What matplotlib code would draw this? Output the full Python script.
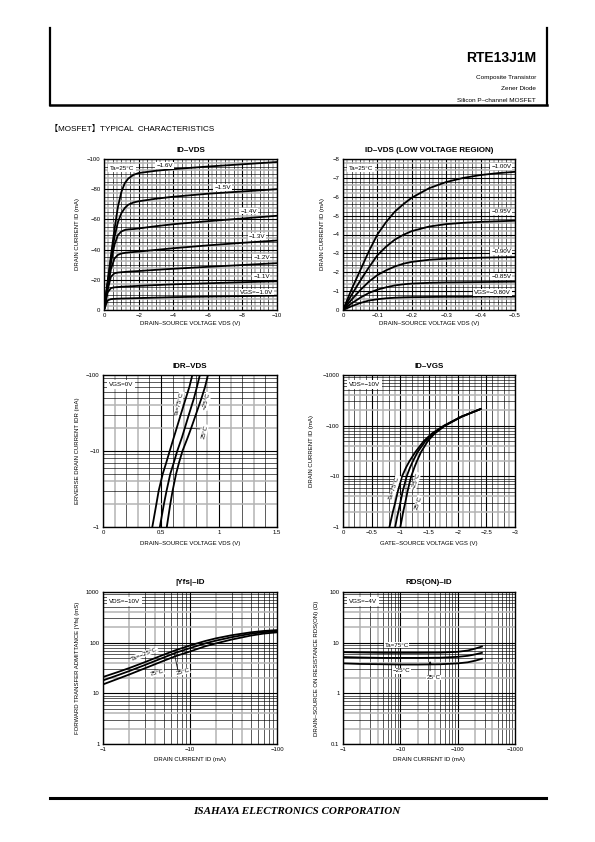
import numpy as np
import matplotlib
matplotlib.use("Agg")
import matplotlib.pyplot as plt

plt.rcParams['font.family'] = ['Liberation Sans', 'DejaVu Sans']
plt.rcParams['axes.unicode_minus'] = True

# ---------------- data ----------------
# ID-VDS (full range), Ta=25C
vds_full = [0, -0.2, -0.4, -0.6, -0.8, -1.0, -1.2, -1.4, -1.7, -2, -3, -4, -6, -8, -10]
id_full = {
    "-1.0": [0, -6.3, -7.2, -7.4, -7.5, -7.6, -7.65, -7.7, -7.8, -7.9, -8.2, -8.5, -8.9, -9.2, -9.5],
    "-1.1": [0, -11.5, -14.5, -15, -15.2, -15.4, -15.5, -15.6, -15.8, -16, -16.5, -17, -17.7, -18.4, -19],
    "-1.2": [0, -13, -22, -24.3, -24.8, -25, -25.2, -25.4, -25.6, -25.8, -26.6, -27.3, -28.6, -29.8, -31],
    "-1.3": [0, -14, -27, -34, -36.5, -37.4, -37.8, -38.1, -38.4, -38.7, -39.8, -40.9, -42.8, -44.5, -46],
    "-1.4": [0, -16, -31, -43, -49.5, -52, -53, -53.4, -53.6, -54, -55.5, -56.8, -58.8, -60.6, -62.4],
    "-1.5": [0, -17, -33, -48, -58, -64, -67.5, -69.7, -71.2, -72, -73.7, -75, -77, -78.5, -80],
    "-1.6": [0, -18, -36, -53, -68, -78, -84, -87, -89.5, -90.7, -92.2, -93.3, -95, -96.5, -98],
}
# ID-VDS (low voltage region)
vds_low = [0, -0.025, -0.05, -0.075, -0.1, -0.125, -0.15, -0.175, -0.2, -0.25, -0.3, -0.35, -0.4, -0.45, -0.5]
id_low = {
    "-0.80": [0, -0.2, -0.37, -0.5, -0.57, -0.62, -0.65, -0.67, -0.68, -0.69, -0.7, -0.7, -0.71, -0.71, -0.71],
    "-0.85": [0, -0.35, -0.65, -0.9, -1.08, -1.2, -1.3, -1.36, -1.4, -1.44, -1.46, -1.47, -1.48, -1.49, -1.5],
    "-0.90": [0, -0.55, -1.05, -1.5, -1.85, -2.1, -2.3, -2.45, -2.55, -2.66, -2.72, -2.75, -2.77, -2.79, -2.8],
    "-0.95": [0, -0.8, -1.55, -2.25, -2.9, -3.35, -3.72, -3.98, -4.18, -4.42, -4.55, -4.62, -4.67, -4.7, -4.73],
    "-1.00": [0, -1.1, -2.1, -3.1, -4.0, -4.65, -5.2, -5.6, -5.95, -6.45, -6.78, -7.0, -7.15, -7.25, -7.32],
}
# IDR-VDS, VGS=0V (|IDR| in mA vs VDS)
idr = [1, 2, 3, 5, 7, 10, 15, 20, 30, 50, 70, 100]
vds_idr = {
    "75": [0.425, 0.46, 0.48, 0.515, 0.545, 0.575, 0.61, 0.635, 0.67, 0.715, 0.745, 0.77],
    "25": [0.49, 0.525, 0.548, 0.58, 0.61, 0.64, 0.68, 0.705, 0.74, 0.785, 0.81, 0.835],
    "-25": [0.55, 0.58, 0.6, 0.63, 0.655, 0.685, 0.73, 0.76, 0.8, 0.85, 0.88, 0.905],
}
# ID-VGS, VDS=-10V (|ID| in mA vs VGS)
id_vgs = [1, 1.5, 2, 3, 5, 7, 10, 15, 20, 30, 50, 70, 100, 150, 213]
vgs_curves = {
    "75": [-0.81, -0.845, -0.87, -0.91, -0.955, -0.99, -1.03, -1.1, -1.16, -1.26, -1.41, -1.55, -1.76, -2.06, -2.4],
    "25": [-0.91, -0.94, -0.965, -1.0, -1.04, -1.075, -1.11, -1.17, -1.22, -1.3, -1.44, -1.57, -1.77, -2.06, -2.4],
    "-25": [-1.0, -1.03, -1.05, -1.085, -1.125, -1.155, -1.19, -1.245, -1.29, -1.36, -1.48, -1.6, -1.78, -2.07, -2.4],
}
# |Yfs|-ID, VDS=-10V
id_yfs = [1, 1.5, 2, 3, 5, 7, 10, 15, 20, 30, 50, 70, 100]
yfs = {
    "-25": [21, 26.5, 31.5, 41, 58, 72, 88, 108, 122, 140, 160, 170, 177],
    "25": [18, 23, 27.5, 36, 51, 64, 78, 97, 110, 128, 150, 161, 168],
    "75": [15, 19.5, 23.5, 31, 44, 55, 67, 85, 97, 115, 138, 151, 160],
}
# RDS(ON)-ID, VGS=-4V
id_rds = [1, 2, 5, 10, 20, 50, 100, 150, 200, 265]
rds = {
    "75": [6.5, 6.4, 6.3, 6.3, 6.3, 6.35, 6.6, 7.0, 7.6, 8.4],
    "25": [5.2, 5.1, 5.0, 5.0, 5.0, 5.05, 5.25, 5.5, 5.85, 6.3],
    "-25": [3.9, 3.8, 3.75, 3.7, 3.7, 3.75, 3.9, 4.1, 4.4, 4.8],
}

# ---------------- figure ----------------
W, H = 595, 842
fig = plt.figure(figsize=(W / 100, H / 100), dpi=100)

FS_TICK = 4.3
FS_LAB = 4.3
FS_NOTE = 4.5
LW = 1.3


def px_axes(l, t, r, b):
    ax = fig.add_axes([l / W, 1 - b / H, (r - l) / W, (b - t) / H])
    for s in ax.spines.values():
        s.set_linewidth(1.0)
    ax.tick_params(length=0, labelsize=FS_TICK, pad=2.5)
    return ax


def grid_line(ax, v, axis, kind):
    if kind == "major":
        kw = dict(color="black", lw=0.8)
    elif kind == "gray":
        kw = dict(color="#b4b4b4", lw=1.1)
    else:
        kw = dict(color="black", lw=0.45)
    if axis == "x":
        ax.axvline(v, zorder=0.5, **kw)
    else:
        ax.axhline(v, zorder=0.5, **kw)


def lin_grid(ax, axis, lo, hi, ndiv, every):
    for i, v in enumerate(np.linspace(lo, hi, ndiv + 1)):
        if i % every == 0:
            kind = "major"
        elif i % 2 == 1:
            kind = "gray"
        else:
            kind = "minor"
        grid_line(ax, v, axis, kind)


def log_grid(ax, axis, lo_exp, hi_exp):
    for e in range(lo_exp, hi_exp):
        for m in range(1, 10):
            kind = "major" if m == 1 else ("gray" if m in (2, 4) else "minor")
            grid_line(ax, m * 10.0 ** e, axis, kind)


def deco(ax, title, xlabel, ylabel, ylab_dx, xlab_dy, w, h):
    ax.text(0.5, 1 + 9 / h, title, transform=ax.transAxes, ha="center",
            va="center", fontsize=5.8, fontweight="bold")
    ax.set_xlabel(xlabel, fontsize=FS_LAB)
    ax.xaxis.label.set_va("center")
    ax.xaxis.set_label_coords(0.5, -xlab_dy / h)
    ax.set_ylabel(ylabel, fontsize=FS_LAB)
    ax.yaxis.label.set_va("center")
    ax.yaxis.set_label_coords(-ylab_dx / w, 0.5)


def box(ax, x, y, s, rot=0, pad=0.6):
    ax.text(x, y, s, fontsize=FS_NOTE, ha="center", va="center", zorder=5,
            rotation=rot, rotation_mode="anchor",
            bbox=dict(fc="white", ec="none", pad=pad))


def corner(ax, s):
    ax.text(0.035, 0.955, s, transform=ax.transAxes, fontsize=FS_NOTE, ha="left",
            va="top", zorder=5, bbox=dict(fc="white", ec="none", pad=1.2))


# ---- panel 1: ID-VDS ----
ax = px_axes(104, 159, 277, 310)
for k, ys in id_full.items():
    ax.plot(vds_full, ys, color="black", lw=LW, zorder=3, solid_joinstyle="round")
ax.set_xlim(0, -10)
ax.set_ylim(0, -100)
lin_grid(ax, "x", 0, -10, 40, 8)
lin_grid(ax, "y", 0, -100, 40, 8)
ax.set_xticks([0, -2, -4, -6, -8, -10])
ax.set_xticklabels(["0", "\u22122", "\u22124", "\u22126", "\u22128", "\u221210"])
ax.set_yticks([0, -20, -40, -60, -80, -100])
ax.set_yticklabels(["0", "\u221220", "\u221240", "\u221260", "\u221280", "\u2212100"])
deco(ax, "ID\u2013VDS", "DRAIN\u2013SOURCE VOLTAGE VDS (V)", "DRAIN CURRENT ID (mA)", 27, 13, 173, 151)
corner(ax, "Ta=25\u00b0C")
box(ax, -3.5, -95.5, "\u22121.6V")
box(ax, -6.85, -81, "\u22121.5V")
box(ax, -8.35, -65.5, "\u22121.4V")
box(ax, -8.85, -48.5, "\u22121.3V")
box(ax, -9.1, -35, "\u22121.2V")
box(ax, -9.1, -22, "\u22121.1V")
box(ax, -8.8, -11.8, "VGS=\u22121.0V")

# ---- panel 2: ID-VDS low voltage ----
ax = px_axes(343, 159, 515, 310)
for k, ys in id_low.items():
    ax.plot(vds_low, ys, color="black", lw=LW, zorder=3, solid_joinstyle="round")
ax.set_xlim(0, -0.5)
ax.set_ylim(0, -8)
lin_grid(ax, "x", 0, -0.5, 40, 8)
lin_grid(ax, "y", 0, -8, 40, 5)
ax.set_xticks([0, -0.1, -0.2, -0.3, -0.4, -0.5])
ax.set_xticklabels(["0", "\u22120.1", "\u22120.2", "\u22120.3", "\u22120.4", "\u22120.5"])
ax.set_yticks(list(range(0, -9, -1)))
ax.set_yticklabels(["0"] + ["\u2212%d" % i for i in range(1, 9)])
deco(ax, "ID\u2013VDS (LOW VOLTAGE REGION)", "DRAIN\u2013SOURCE VOLTAGE VDS (V)",
     "DRAIN CURRENT ID (mA)", 20, 13, 172, 151)
corner(ax, "Ta=25\u00b0C")
box(ax, -0.46, -7.6, "\u22121.00V")
box(ax, -0.46, -5.2, "\u22120.95V")
box(ax, -0.46, -3.08, "\u22120.90V")
box(ax, -0.46, -1.78, "\u22120.85V")
box(ax, -0.435, -0.93, "VGS=\u22120.80V")

# ---- panel 3: IDR-VDS ----
ax = px_axes(103, 375, 277, 527)
for k, xs in vds_idr.items():
    ax.plot(xs, idr, color="black", lw=LW, zorder=3, solid_joinstyle="round")
ax.set_yscale("log")
ax.set_xlim(0, 1.5)
ax.set_ylim(1, 100)
lin_grid(ax, "x", 0, 1.5, 15, 5)
log_grid(ax, "y", 0, 2)
ax.set_xticks([0, 0.5, 1, 1.5])
ax.set_xticklabels(["0", "0.5", "1", "1.5"])
ax.set_yticks([1, 10, 100])
ax.set_yticklabels(["\u22121", "\u221210", "\u2212100"])
ax.minorticks_off()
deco(ax, "IDR\u2013VDS", "DRAIN\u2013SOURCE VOLTAGE VDS (V)",
     "ERVERSE DRAIN CURRENT IDR (mA)", 26, 16, 174, 152)
corner(ax, "VGS=0V")
box(ax, 0.655, 42, "Ta=75\u00b0C", rot=76, pad=0.3)
box(ax, 0.895, 45, "\u221225\u00b0C", rot=76, pad=0.3)
ax.plot([0.705, 0.835], [20, 19.5], color="black", lw=0.5, zorder=4)
box(ax, 0.875, 18, "25\u00b0C", rot=76, pad=0.3)

# ---- panel 4: ID-VGS ----
ax = px_axes(343, 375, 515, 527)
for k, xs in vgs_curves.items():
    ax.plot(xs, id_vgs, color="black", lw=LW, zorder=3, solid_joinstyle="round")
ax.set_yscale("log")
ax.set_xlim(0, -3)
ax.set_ylim(1, 1000)
lin_grid(ax, "x", 0, -3, 30, 5)
log_grid(ax, "y", 0, 3)
ax.set_xticks([0, -0.5, -1, -1.5, -2, -2.5, -3])
ax.set_xticklabels(["0", "\u22120.5", "\u22121", "\u22121.5", "\u22122", "\u22122.5", "\u22123"])
ax.set_yticks([1, 10, 100, 1000])
ax.set_yticklabels(["\u22121", "\u221210", "\u2212100", "\u22121000"])
ax.minorticks_off()
deco(ax, "ID\u2013VGS", "GATE\u2013SOURCE VOLTAGE VGS (V)", "DRAIN CURRENT ID (mA)", 31, 16, 172, 152)
corner(ax, "VDS=\u221210V")
box(ax, -0.9, 6.0, "Ta=75\u00b0C", rot=72, pad=0.3)
box(ax, -1.27, 8.0, "\u221225\u00b0C", rot=72, pad=0.3)
ax.plot([-1.0, -1.24], [3.0, 3.0], color="black", lw=0.5, zorder=4)
box(ax, -1.31, 3.0, "25\u00b0C", rot=72, pad=0.3)

# ---- panel 5: |Yfs|-ID ----
ax = px_axes(103, 592, 277, 744)
for k, ys in yfs.items():
    ax.plot(id_yfs, ys, color="black", lw=LW, zorder=3, solid_joinstyle="round")
ax.set_xscale("log")
ax.set_yscale("log")
ax.set_xlim(1, 100)
ax.set_ylim(1, 1000)
log_grid(ax, "x", 0, 2)
log_grid(ax, "y", 0, 3)
ax.set_xticks([1, 10, 100])
ax.set_xticklabels(["\u22121", "\u221210", "\u2212100"])
ax.set_yticks([1, 10, 100, 1000])
ax.set_yticklabels(["1", "10", "100", "1000"])
ax.minorticks_off()
deco(ax, "|Yfs|\u2013ID", "DRAIN CURRENT ID (mA)",
     "FORWARD TRANSFER ADMITTANCE |Yfs| (mS)", 26, 16, 174, 152)
corner(ax, "VDS=\u221210V")
box(ax, 3.0, 60, "Ta=\u221225\u00b0C", rot=22, pad=0.3)
box(ax, 4.2, 25, "75\u00b0C", rot=15, pad=0.3)
ax.plot([6.6, 7.2], [62, 30], color="black", lw=0.5, zorder=4)
box(ax, 8.3, 26.5, "25\u00b0C", rot=15, pad=0.3)

# ---- panel 6: RDS(ON)-ID ----
ax = px_axes(343, 592, 515, 744)
for k, ys in rds.items():
    ax.plot(id_rds, ys, color="black", lw=LW, zorder=3, solid_joinstyle="round")
ax.set_xscale("log")
ax.set_yscale("log")
ax.set_xlim(1, 1000)
ax.set_ylim(0.1, 100)
log_grid(ax, "x", 0, 3)
log_grid(ax, "y", -1, 2)
ax.set_xticks([1, 10, 100, 1000])
ax.set_xticklabels(["\u22121", "\u221210", "\u2212100", "\u22121000"])
ax.set_yticks([0.1, 1, 10, 100])
ax.set_yticklabels(["0.1", "1", "10", "100"])
ax.minorticks_off()
deco(ax, "RDS(ON)\u2013ID", "DRAIN CURRENT ID (mA)",
     "DRAIN\u2013SOURCE ON RESISTANCE RDS(ON) (\u03a9)", 26, 16, 172, 152)
corner(ax, "VGS=\u22124V")
box(ax, 8.7, 8.9, "Ta=75\u00b0C", pad=0.3)
box(ax, 10.5, 2.8, "\u221225\u00b0C", pad=0.3)
ax.annotate("", xy=(33, 4.9), xytext=(33, 2.45), zorder=4,
            arrowprops=dict(arrowstyle="-|>", lw=0.5, color="black", mutation_scale=4))
box(ax, 38, 2.05, "25\u00b0C", pad=0.3)

# ---------------- page header / footer ----------------
fx = lambda x: x / W
fy = lambda y: 1 - y / H
fig.add_artist(plt.Line2D([fx(50), fx(50)], [fy(28), fy(105)], color="black", lw=1.6))
fig.add_artist(plt.Line2D([fx(547), fx(547)], [fy(28), fy(105)], color="black", lw=1.6))
fig.add_artist(plt.Line2D([fx(50), fx(547)], [fy(105), fy(105)], color="black", lw=1.8))
fig.text(fx(536), fy(58), "RTE13J1M", ha="right", va="center", fontsize=10, fontweight="bold")
fig.text(fx(536), fy(78), "Composite Transistor", ha="right", va="center", fontsize=4.6)
fig.text(fx(536), fy(89), "Zener Diode", ha="right", va="center", fontsize=4.6)
fig.text(fx(536), fy(100), "Silicon P\u2013channel MOSFET", ha="right", va="center", fontsize=4.6)
fig.text(fx(50), fy(129), "\u3010MOSFET\u3011TYPICAL  CHARACTERISTICS", ha="left", va="center",
         fontsize=5.9, family=["Liberation Sans", "Noto Sans CJK JP", "DejaVu Sans"])

fig.add_artist(plt.Line2D([fx(50), fx(546)], [fy(798), fy(798)], color="black", lw=2.2))
fig.text(fx(297), fy(812), "ISAHAYA ELECTRONICS CORPORATION", ha="center", va="center",
         fontsize=8, fontweight="bold", fontstyle="italic", family=["Liberation Serif", "DejaVu Serif"])

fig.savefig("out.png", dpi=100)
